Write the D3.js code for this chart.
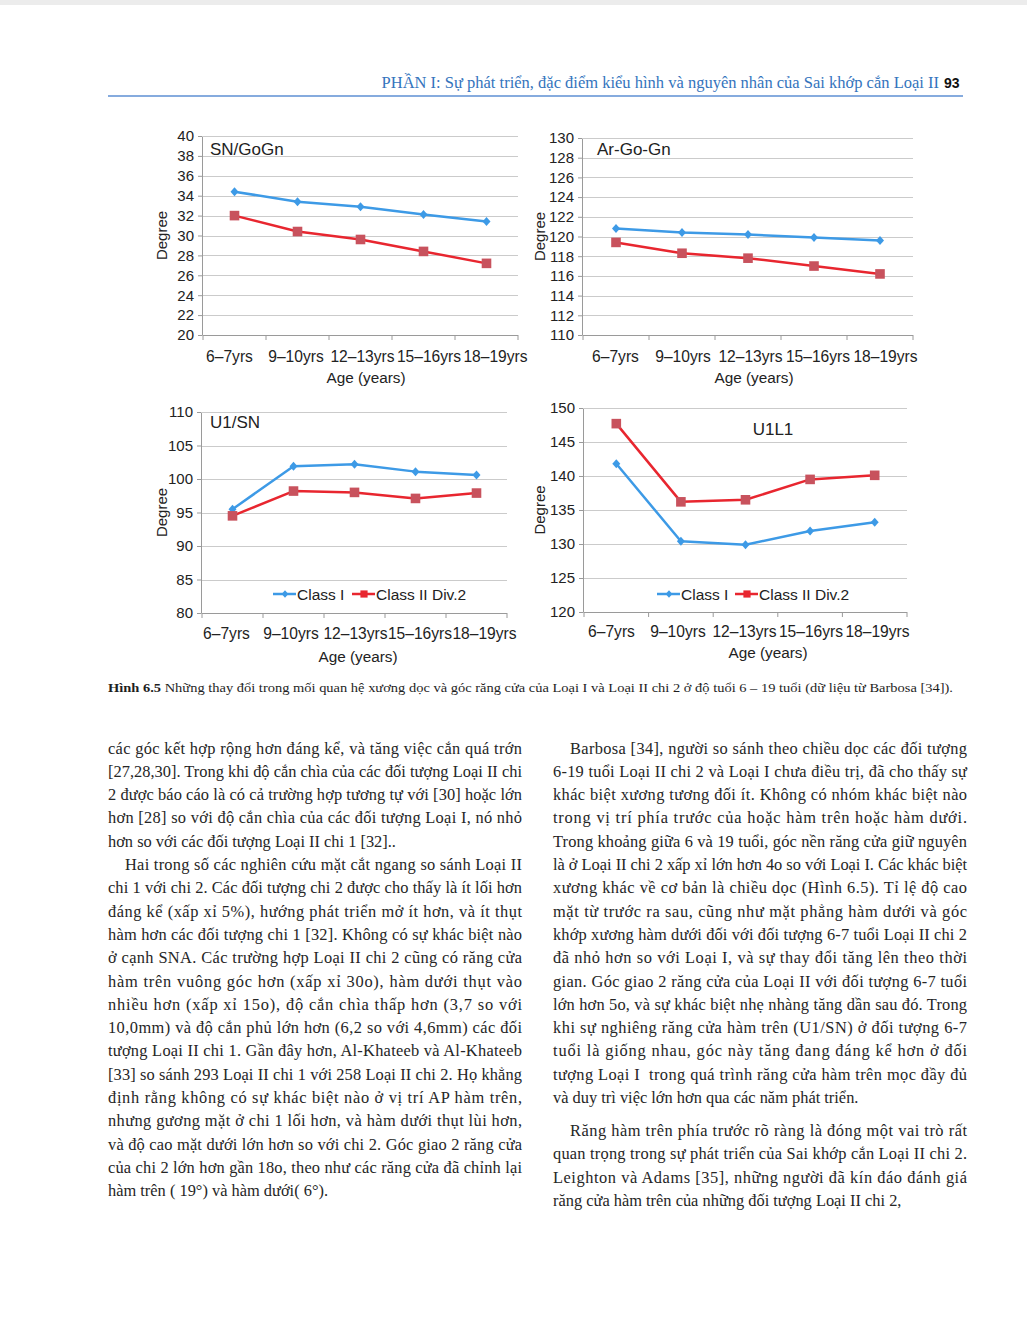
<!DOCTYPE html>
<html>
<head>
<meta charset="utf-8">
<script src="https://cdn.jsdelivr.net/npm/d3@7"></script>
<style>
  html, body { margin: 0; padding: 0; background: #fff; }
  svg { display: block; }
</style>
</head>
<body>
<svg id="page" width="1027" height="1337"></svg>
<script>
// ---------------- DATA ----------------
const categories = ["6–7yrs", "9–10yrs", "12–13yrs", "15–16yrs", "18–19yrs"];
const seriesNames = ["Class I", "Class II Div.2"];

const snGoGnClassI  = [34.4, 33.4, 32.9, 32.1, 31.4];
const snGoGnClassII = [32.0, 30.4, 29.6, 28.4, 27.2];

const arGoGnClassI  = [120.8, 120.4, 120.2, 119.9, 119.6];
const arGoGnClassII = [119.4, 118.3, 117.8, 117.0, 116.2];

const u1snClassI  = [95.5, 101.9, 102.2, 101.1, 100.6];
const u1snClassII = [94.5, 98.2, 98.0, 97.1, 97.9];

const u1l1ClassI  = [141.8, 130.4, 129.9, 131.9, 133.2];
const u1l1ClassII = [147.7, 136.2, 136.5, 139.5, 140.1];

const snGoGnTicks = [20, 22, 24, 26, 28, 30, 32, 34, 36, 38, 40];
const arGoGnTicks = [110, 112, 114, 116, 118, 120, 122, 124, 126, 128, 130];
const u1snTicks   = [80, 85, 90, 95, 100, 105, 110];
const u1l1Ticks   = [120, 125, 130, 135, 140, 145, 150];

const headerText = "PHẦN I: Sự phát triển, đặc điểm kiểu hình và nguyên nhân của Sai khớp cắn Loại II";
const pageNumber = "93";
const captionBold = "Hình 6.5";
const captionText = " Những thay đổi trong mối quan hệ xương dọc và góc răng cửa của Loại I và Loại II chi 2 ở độ tuổi 6 – 19 tuổi (dữ liệu từ Barbosa [34]).";

// body lines: [text, indent, justified]
const leftLines = [
  ["các góc kết hợp rộng hơn đáng kể, và tăng việc cắn quá trớn", 0, 1],
  ["[27,28,30]. Trong khi độ cắn chìa của các đối tượng Loại II chi", 0, 1],
  ["2 được báo cáo là có cả trường hợp tương tự với [30] hoặc lớn", 0, 1],
  ["hơn [28] so với độ cắn chìa của các đối tượng Loại I, nó nhỏ", 0, 1],
  ["hơn so với các đối tượng Loại II chi 1 [32]..", 0, 0],
  ["Hai trong số các nghiên cứu mặt cắt ngang so sánh Loại II", 1, 1],
  ["chi 1 với chi 2. Các đối tượng chi 2 được cho thấy là ít lối hơn", 0, 1],
  ["đáng kể (xấp xỉ 5%), hướng phát triển mở ít hơn, và ít thụt", 0, 1],
  ["hàm hơn các đối tượng chi 1 [32]. Không có sự khác biệt nào", 0, 1],
  ["ở cạnh SNA. Các trường hợp Loại II chi 2 cũng có răng cửa", 0, 1],
  ["hàm trên vuông góc hơn (xấp xỉ 30o), hàm dưới thụt vào", 0, 1],
  ["nhiều hơn (xấp xỉ 15o), độ cắn chìa thấp hơn (3,7 so với", 0, 1],
  ["10,0mm) và độ cắn phủ lớn hơn (6,2 so với 4,6mm) các đối", 0, 1],
  ["tượng Loại II chi 1. Gần đây hơn, Al-Khateeb và Al-Khateeb", 0, 1],
  ["[33] so sánh 293 Loại II chi 1 với 258 Loại II chi 2. Họ khẳng", 0, 1],
  ["định rằng không có sự khác biệt nào ở vị trí AP hàm trên,", 0, 1],
  ["nhưng gương mặt ở chi 1 lối hơn, và hàm dưới thụt lùi hơn,", 0, 1],
  ["và độ cao mặt dưới lớn hơn so với chi 2. Góc giao 2 răng cửa", 0, 1],
  ["của chi 2 lớn hơn gần 18o, theo như các răng cửa đã chỉnh lại", 0, 1],
  ["hàm trên ( 19°) và hàm dưới( 6°).", 0, 0]
];
const rightLines = [
  ["Barbosa [34], người so sánh theo chiều dọc các đối tượng", 1, 1],
  ["6-19 tuổi Loại II chi 2 và Loại I chưa điều trị, đã cho thấy sự", 0, 1],
  ["khác biệt xương tương đối ít. Không có nhóm khác biệt nào", 0, 1],
  ["trong vị trí phía trước của hoặc hàm trên hoặc hàm dưới.", 0, 1],
  ["Trong khoảng giữa 6 và 19 tuổi, góc nền răng cửa giữ nguyên", 0, 1],
  ["là ở Loại II chi 2 xấp xỉ lớn hơn 4o so với Loại I. Các khác biệt", 0, 1],
  ["xương khác về cơ bản là chiều dọc (Hình 6.5). Tỉ lệ độ cao", 0, 1],
  ["mặt từ trước ra sau, cũng như mặt phẳng hàm dưới và góc", 0, 1],
  ["khớp xương hàm dưới đối với đối tượng 6-7 tuổi Loại II chi 2", 0, 1],
  ["đã nhỏ hơn so với Loại I, và sự thay đổi tăng lên theo thời", 0, 1],
  ["gian. Góc giao 2 răng cửa của Loại II với đối tượng 6-7 tuổi", 0, 1],
  ["lớn hơn 5o, và sự khác biệt nhẹ nhàng tăng dần sau đó. Trong", 0, 1],
  ["khi sự nghiêng răng cửa hàm trên (U1/SN) ở đối tượng 6-7", 0, 1],
  ["tuổi là giống nhau, góc này tăng đang đáng kể hơn ở đối", 0, 1],
  ["tượng Loại I  trong quá trình răng cửa hàm trên mọc đầy đủ", 0, 1],
  ["và duy trì việc lớn hơn qua các năm phát triển.", 0, 0],
  ["Răng hàm trên phía trước rõ ràng là đóng một vai trò rất", 1, 1],
  ["quan trọng trong sự phát triển của Sai khớp cắn Loại II chi 2.", 0, 1],
  ["Leighton và Adams [35], những người đã kín đáo đánh giá", 0, 1],
  ["răng cửa hàm trên của những đối tượng Loại II chi 2,", 0, 0]
];

// ---------------- STYLE ----------------
const BLUE = "#3d9ae6";
const RED = "#e8262f";
const RED_MARK = "#c8525d";
const GRID = "#cbcbcb";
const AXIS = "#9a9a9a";
const SANS = "'Liberation Sans', Arial, sans-serif";
const SERIF = "'Liberation Serif', 'Times New Roman', serif";
const TEXTC = "#262626";

const svg = d3.select("#page");
svg.append("rect").attr("x", 0).attr("y", 0).attr("width", 1027).attr("height", 1337).attr("fill", "#fff");
svg.append("rect").attr("x", 0).attr("y", 0).attr("width", 1027).attr("height", 5).attr("fill", "#ececec");

// header
svg.append("text").attr("x", 939).attr("y", 88).attr("text-anchor", "end")
  .attr("font-family", SERIF).attr("font-size", 16.5).attr("fill", "#3474bd").text(headerText);
svg.append("text").attr("x", 944).attr("y", 88)
  .attr("font-family", SANS).attr("font-weight", "bold").attr("font-size", 14).attr("fill", "#111").text(pageNumber);
svg.append("line").attr("x1", 108).attr("x2", 963).attr("y1", 96).attr("y2", 96)
  .attr("stroke", "#5e8fd3").attr("stroke-width", 1.3);

// ---------------- PANELS ----------------
const panels = [
  { title: "SN/GoGn", c1: snGoGnClassI, c2: snGoGnClassII, ticks: snGoGnTicks,
    x0: 203, x1: 518, y0: 136, y1: 335, labelRange: [229, 495],
    titleX: 210, titleY: 155, titleAnchor: "start",
    degX: 162, ageX: 366, tickY: 27, ageY: 48, legend: null },
  { title: "Ar-Go-Gn", c1: arGoGnClassI, c2: arGoGnClassII, ticks: arGoGnTicks,
    x0: 583, x1: 913, y0: 138, y1: 335, labelRange: [615, 885],
    titleX: 597, titleY: 155, titleAnchor: "start",
    degX: 540, ageX: 754, tickY: 27, ageY: 48, legend: null },
  { title: "U1/SN", c1: u1snClassI, c2: u1snClassII, ticks: u1snTicks,
    x0: 202, x1: 507, y0: 412, y1: 613, labelRange: [226, 484],
    titleX: 210, titleY: 428, titleAnchor: "start",
    degX: 162, ageX: 358, tickY: 26, ageY: 49, legend: { x: 273, x2: 352, y: 594 } },
  { title: "U1L1", c1: u1l1ClassI, c2: u1l1ClassII, ticks: u1l1Ticks,
    x0: 584, x1: 907, y0: 408, y1: 612, labelRange: [611, 877],
    titleX: 773, titleY: 435, titleAnchor: "middle",
    degX: 540, ageX: 768, tickY: 25, ageY: 46, legend: { x: 657, x2: 735, y: 594 } }
];

function diamondPath(r) { return `M0,${-r-0.5}L${r},0L0,${r+0.5}L${-r},0Z`; }
function squarePath(r) { return `M${-r},${-r}H${r}V${r}H${-r}Z`; }

panels.forEach(p => {
  const g = svg.append("g");
  const x = d3.scaleBand().domain(categories).range([p.x0, p.x1]);
  const xl = d3.scalePoint().domain(categories).range(p.labelRange);
  const yExt = d3.extent(p.ticks);
  const y = d3.scaleLinear().domain(yExt).range([p.y1, p.y0]);
  const bw = x.bandwidth();
  const cx = c => x(c) + bw / 2;

  // gridlines
  g.selectAll(".grid").data(p.ticks).join("line")
    .attr("x1", p.x0).attr("x2", p.x1)
    .attr("y1", d => Math.round(y(d)) + 0.5).attr("y2", d => Math.round(y(d)) + 0.5)
    .attr("stroke", GRID).attr("stroke-width", 1);

  // y axis
  const ya = g.append("g").attr("transform", `translate(${p.x0 - 1},0)`)
    .call(d3.axisLeft(y).tickValues(p.ticks).tickSize(4).tickPadding(4).tickSizeOuter(0));
  ya.select(".domain").attr("stroke", AXIS);
  ya.selectAll(".tick line").attr("stroke", AXIS);
  ya.selectAll(".tick text").attr("font-family", SANS).attr("font-size", 15).attr("fill", "#222");

  // x axis line (band scale) + labels (point scale)
  g.append("line").attr("x1", p.x0).attr("x2", p.x1).attr("y1", p.y1 + 0.5).attr("y2", p.y1 + 0.5).attr("stroke", AXIS);
  const xa = g.append("g").attr("transform", `translate(0,${p.y1})`)
    .call(d3.axisBottom(xl).tickSize(0).tickPadding(p.tickY - 11));
  xa.select(".domain").remove();
  xa.selectAll(".tick text").attr("font-family", SANS).attr("font-size", 15.6).attr("fill", "#222");
  // category boundary tick marks
  const bounds = d3.range(categories.length + 1).map(i => p.x0 + i * bw);
  g.selectAll(".btick").data(bounds).join("line")
    .attr("x1", d => d).attr("x2", d => d)
    .attr("y1", p.y1).attr("y2", p.y1 + 5)
    .attr("stroke", AXIS);

  // axis titles
  g.append("text").attr("transform", `translate(${p.degX},${(p.y0 + p.y1) / 2}) rotate(-90)`)
    .attr("text-anchor", "middle").attr("dy", "0.35em")
    .attr("font-family", SANS).attr("font-size", 15).attr("fill", "#222").text("Degree");
  g.append("text").attr("x", p.ageX).attr("y", p.y1 + p.ageY)
    .attr("text-anchor", "middle")
    .attr("font-family", SANS).attr("font-size", 15.3).attr("fill", "#222").text("Age (years)");

  // title
  g.append("text").attr("x", p.titleX).attr("y", p.titleY).attr("text-anchor", p.titleAnchor)
    .attr("font-family", SANS).attr("font-size", 17).attr("fill", "#222").text(p.title);

  // lines
  const line = d3.line().x((d, i) => cx(categories[i])).y(d => y(d));
  g.append("path").datum(p.c1).attr("d", line).attr("fill", "none")
    .attr("stroke", BLUE).attr("stroke-width", 2.5).attr("stroke-linejoin", "round");
  g.append("path").datum(p.c2).attr("d", line).attr("fill", "none")
    .attr("stroke", RED).attr("stroke-width", 2.5).attr("stroke-linejoin", "round");

  // markers
  g.selectAll(".m1").data(p.c1).join("path")
    .attr("transform", (d, i) => `translate(${cx(categories[i])},${y(d)})`)
    .attr("d", diamondPath(4)).attr("fill", BLUE);
  g.selectAll(".m2").data(p.c2).join("path")
    .attr("transform", (d, i) => `translate(${cx(categories[i])},${y(d)})`)
    .attr("d", squarePath(4.8)).attr("fill", RED_MARK);

  // legend
  if (p.legend) {
    const L = p.legend;
    const ly = L.y;
    const items = [
      { x: L.x, color: BLUE, mark: diamondPath(3.3), mfill: BLUE, label: seriesNames[0] },
      { x: L.x2, color: RED, mark: squarePath(3.6), mfill: RED, label: seriesNames[1] }
    ];
    items.forEach(it => {
      g.append("line").attr("x1", it.x).attr("x2", it.x + 23).attr("y1", ly).attr("y2", ly)
        .attr("stroke", it.color).attr("stroke-width", 2.5);
      g.append("path").attr("transform", `translate(${it.x + 12},${ly})`).attr("d", it.mark).attr("fill", it.mfill);
      g.append("text").attr("x", it.x + 24).attr("y", ly + 5.5)
        .attr("font-family", SANS).attr("font-size", 15.5).attr("fill", "#222").text(it.label);
    });
  }
});

// ---------------- CAPTION ----------------
const cap = svg.append("text").attr("x", 108).attr("y", 692)
  .attr("font-family", SERIF).attr("font-size", 13.2).attr("fill", "#1e1e1e")
  .attr("textLength", 845).attr("lengthAdjust", "spacingAndGlyphs");
cap.append("tspan").attr("font-weight", "bold").text(captionBold);
cap.append("tspan").text(captionText);

// ---------------- BODY TEXT ----------------
function drawColumn(lines, x0, width, baselines) {
  lines.forEach((ln, i) => {
    const [t, indent, just] = ln;
    const xs = x0 + (indent ? 17 : 0);
    const txt = svg.append("text").attr("x", xs).attr("y", baselines[i])
      .attr("font-family", SERIF).attr("font-size", 16.4).attr("fill", TEXTC)
      .attr("xml:space", "preserve").style("white-space", "pre").text(t);
    if (just) {
      txt.attr("textLength", x0 + width - xs).attr("lengthAdjust", "spacing");
    }
  });
}
const leftBase = leftLines.map((d, i) => 753.5 + i * 23.3);
const rightBase = rightLines.map((d, i) => i < 16 ? 753.5 + i * 23.3 : 1136 + (i - 16) * 23.3);
drawColumn(leftLines, 108, 414, leftBase);
drawColumn(rightLines, 553, 414, rightBase);
</script>
</body>
</html>
